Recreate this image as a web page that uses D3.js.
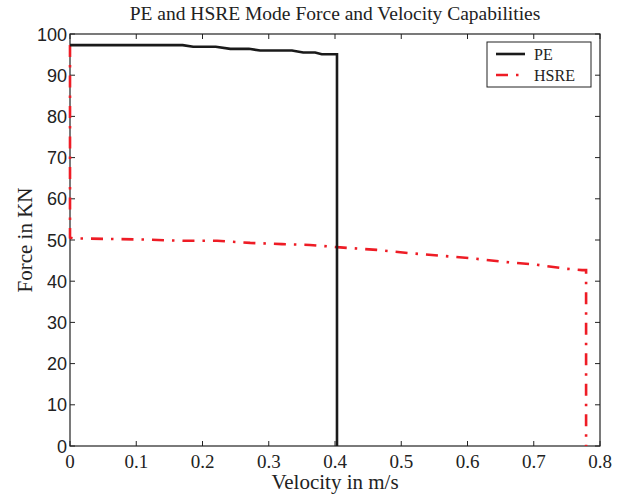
<!DOCTYPE html>
<html>
<head>
<meta charset="utf-8">
<script src="https://cdn.jsdelivr.net/npm/d3@7"></script>
<style>
  body { margin: 0; background: #fff; }
  .title, .xlabel, .ylabel, .xtick text, .legend text { font-family: "Liberation Serif", "Times New Roman", serif; }
  .ytick text { font-family: "Liberation Sans", Arial, sans-serif; }
</style>
</head>
<body>
<svg id="chart" width="629" height="495"></svg>
<script>
const xTicks = [0, 0.1, 0.2, 0.3, 0.4, 0.5, 0.6, 0.7, 0.8];
const yTicks = [0, 10, 20, 30, 40, 50, 60, 70, 80, 90, 100];

// PE mode: velocity (m/s), force (kN)
const peVel =   [0, 0.17, 0.186, 0.22, 0.242, 0.27, 0.287, 0.335, 0.352, 0.37, 0.38, 0.403, 0.403];
const peForce = [97.3, 97.3, 96.9, 96.9, 96.4, 96.4, 96.0, 96.0, 95.5, 95.5, 95.1, 95.1, 0];

// HSRE mode
const hsreVel =   [0, 0, 0.005, 0.116, 0.17, 0.222, 0.272, 0.32, 0.362, 0.408, 0.463, 0.513, 0.558, 0.604, 0.654, 0.699, 0.75, 0.773, 0.779, 0.779];
const hsreForce = [97.3, 50.6, 50.4, 50.1, 49.8, 49.8, 49.3, 49.0, 48.8, 48.2, 47.6, 46.8, 46.2, 45.6, 44.7, 44.1, 43.0, 42.7, 42.7, 0];

const svg = d3.select("#chart");
const m = { left: 70, right: 29, top: 34, bottom: 49 };
const W = 629, H = 495;

const x = d3.scaleLinear().domain([0, 0.8]).range([m.left, W - m.right]);
const y = d3.scaleLinear().domain([0, 100]).range([H - m.bottom, m.top]);

const tickLen = 5;

// ticks on all four sides, pointing in
const xt = svg.append("g").attr("class", "xtick");
xTicks.forEach(t => {
  xt.append("line").attr("x1", x(t)).attr("x2", x(t)).attr("y1", y(0)).attr("y2", y(0) - tickLen)
    .attr("stroke", "#222").attr("stroke-width", 1);
  xt.append("line").attr("x1", x(t)).attr("x2", x(t)).attr("y1", y(100)).attr("y2", y(100) + tickLen)
    .attr("stroke", "#222").attr("stroke-width", 1);
  xt.append("text").attr("x", x(t)).attr("y", y(0) + 22).attr("text-anchor", "middle")
    .attr("font-size", 19).attr("fill", "#222").text(t === 0 ? "0" : d3.format(".1f")(t));
});

const yt = svg.append("g").attr("class", "ytick");
yTicks.forEach(t => {
  yt.append("line").attr("x1", x(0)).attr("x2", x(0) + tickLen).attr("y1", y(t)).attr("y2", y(t))
    .attr("stroke", "#222").attr("stroke-width", 1);
  yt.append("line").attr("x1", x(0.8)).attr("x2", x(0.8) - tickLen).attr("y1", y(t)).attr("y2", y(t))
    .attr("stroke", "#222").attr("stroke-width", 1);
  yt.append("text").attr("x", x(0) - 3).attr("y", y(t) + 6.5).attr("text-anchor", "end")
    .attr("font-size", 18).attr("fill", "#222").text(t);
});

// box
svg.append("rect")
  .attr("x", x(0)).attr("y", y(100))
  .attr("width", x(0.8) - x(0)).attr("height", y(0) - y(100))
  .attr("fill", "none").attr("stroke", "#222").attr("stroke-width", 1.2);

const line = d3.line().x(d => x(d[0])).y(d => y(d[1]));

svg.append("path")
  .datum(d3.zip(hsreVel, hsreForce))
  .attr("d", line)
  .attr("fill", "none")
  .attr("stroke", "#ee1c25")
  .attr("stroke-width", 2.6)
  .attr("stroke-dasharray", "12,8,2.5,8");

svg.append("path")
  .datum(d3.zip(peVel, peForce))
  .attr("d", line)
  .attr("fill", "none")
  .attr("stroke", "#1a1a1a")
  .attr("stroke-width", 2.6);

// legend
const lg = svg.append("g").attr("class", "legend");
lg.append("rect").attr("x", 487).attr("y", 42).attr("width", 104).attr("height", 45)
  .attr("fill", "#fff").attr("stroke", "#222").attr("stroke-width", 1);
lg.append("line").attr("x1", 496).attr("x2", 525).attr("y1", 54).attr("y2", 54)
  .attr("stroke", "#1a1a1a").attr("stroke-width", 2.6);
lg.append("text").attr("x", 534).attr("y", 59.5).attr("font-size", 16).attr("fill", "#222").text("PE");
lg.append("line").attr("x1", 496).attr("x2", 525).attr("y1", 75).attr("y2", 75)
  .attr("stroke", "#ee1c25").attr("stroke-width", 2.6).attr("stroke-dasharray", "12,8,2.5,8");
lg.append("text").attr("x", 534).attr("y", 80.5).attr("font-size", 16).attr("fill", "#222").text("HSRE");

// labels
svg.append("text").attr("class", "title").attr("x", 335).attr("y", 20).attr("text-anchor", "middle")
  .attr("font-size", 19.5).attr("fill", "#222").text("PE and HSRE Mode Force and Velocity Capabilities");
svg.append("text").attr("class", "xlabel").attr("x", 335).attr("y", 489).attr("text-anchor", "middle")
  .attr("font-size", 21).attr("fill", "#222").text("Velocity in m/s");
svg.append("text").attr("class", "ylabel")
  .attr("transform", `translate(32, ${y(50)}) rotate(-90)`)
  .attr("text-anchor", "middle")
  .attr("font-size", 21).attr("fill", "#222").text("Force in KN");
</script>
</body>
</html>
